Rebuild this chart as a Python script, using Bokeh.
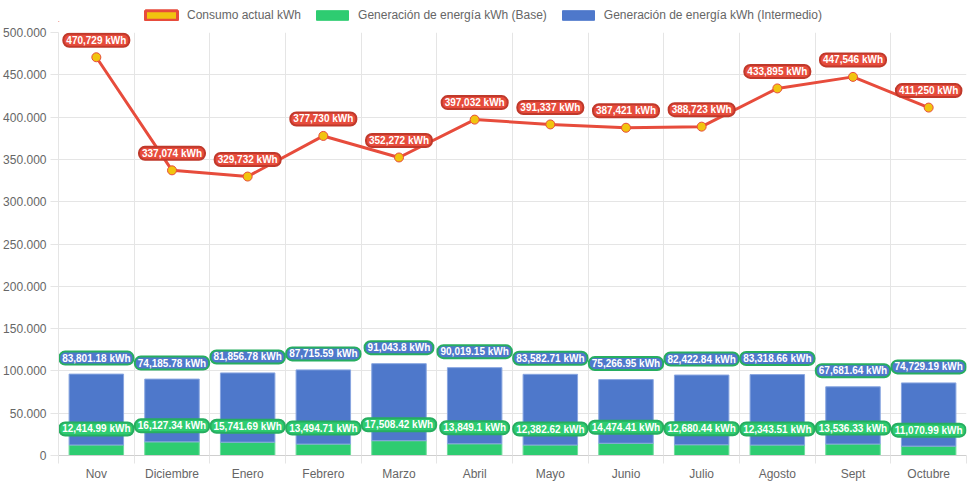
from bokeh.plotting import figure
from bokeh.layouts import column
from bokeh.models import FixedTicker, ColumnDataSource, Legend, LegendItem, Range1d
from bokeh.core.properties import value
from bokeh.embed import file_html
from bokeh.resources import INLINE

months = ["Nov", "Diciembre", "Enero", "Febrero", "Marzo", "Abril", "Mayo",
          "Junio", "Julio", "Agosto", "Sept", "Octubre"]
consumo = [470729, 337074, 329732, 377730, 352272, 397032, 391337, 387421,
           388723, 433895, 447546, 411250]
base = [12414.99, 16127.34, 15741.69, 13494.71, 17508.42, 13849.1, 12382.62,
        14474.41, 12680.44, 12343.51, 13536.33, 11070.99]
inter = [83801.18, 74185.78, 81856.78, 87715.59, 91043.8, 90019.15, 83582.71,
         75266.95, 82422.84, 83318.66, 67681.64, 74729.19]
y_ticks = [0, 50000, 100000, 150000, 200000, 250000, 300000, 350000, 400000, 450000, 500000]
y_tick_labels = ["0", "50.000", "100.000", "150.000", "200.000", "250.000",
                 "300.000", "350.000", "400.000", "450.000", "500.000"]
legend_labels = ["Consumo actual kWh", "Generación de energía kWh (Base)",
                 "Generación de energía kWh (Intermedio)"]

RED = "#e74c3c"
RED_DARK = "#c0392b"
YELLOW = "#f1c40f"
GREEN = "#2ecc71"
GREEN_DARK = "#27ae60"
BLUE = "#4e78cb"
GRID = "#e5e5e5"
FONT = "Liberation Sans"


def fmt_bar(v):
    s = f"{v:,.2f}".rstrip("0").rstrip(".")
    return s + " kWh"


n = len(months)
xc = [i + 0.5 for i in range(n)]
tops = [b + i for b, i in zip(base, inter)]

src = ColumnDataSource(dict(
    x=xc, base=base, top=tops, consumo=consumo,
    lab_base=[fmt_bar(v) for v in base],
    lab_inter=[fmt_bar(v) for v in inter],
    lab_cons=[f"{v:,} kWh" for v in consumo],
))

# ---------- legend strip ----------
leg = figure(width=968, height=22, output_backend="svg", toolbar_location=None,
             x_range=Range1d(0, 1), y_range=Range1d(0, 1),
             x_axis_location=None, y_axis_location=None,
             min_border_left=0, min_border_right=0, min_border_top=0, min_border_bottom=0)
leg.outline_line_color = None
leg.xgrid.visible = False
leg.ygrid.visible = False
r1 = leg.vbar(x=[-100], top=[-100], width=0.5, fill_color=YELLOW, line_color=RED, line_width=3)
r2 = leg.vbar(x=[-100], top=[-100], width=0.5, fill_color=GREEN, line_color=GREEN, line_width=1)
r3 = leg.vbar(x=[-100], top=[-100], width=0.5, fill_color=BLUE, line_color=BLUE, line_width=1)
legend = Legend(items=[
    LegendItem(label=legend_labels[0], renderers=[r1]),
    LegendItem(label=legend_labels[1], renderers=[r2]),
    LegendItem(label=legend_labels[2], renderers=[r3]),
], orientation="horizontal", location=(83, 0), glyph_width=40, glyph_height=12,
    label_text_font=FONT, label_text_font_size="12px", label_text_color="#666666",
    spacing=11, label_standoff=6, padding=0, margin=0, border_line_color=None,
    background_fill_alpha=0, label_height=12)
leg.add_layout(legend)

# ---------- main chart ----------
p = figure(frame_width=908, frame_height=423, output_backend="svg",
           toolbar_location=None, x_range=Range1d(0, n), y_range=Range1d(0, 500000),
           min_border_left=10, min_border_right=2, min_border_top=10, min_border_bottom=28)
p.outline_line_color = None
p.background_fill_color = "white"

p.xgrid.ticker = FixedTicker(ticks=list(range(n + 1)))
p.xgrid.grid_line_color = GRID
p.ygrid.ticker = FixedTicker(ticks=y_ticks)
p.ygrid.grid_line_color = GRID

p.xaxis.ticker = FixedTicker(ticks=xc, minor_ticks=list(range(n + 1)))
p.xaxis.major_label_overrides = {x: m for x, m in zip(xc, months)}
p.xaxis.major_tick_out = 8
p.xaxis.major_tick_in = 0
p.xaxis.major_tick_line_color = None
p.xaxis.minor_tick_out = 8
p.xaxis.minor_tick_in = 0
p.xaxis.minor_tick_line_color = GRID
p.xaxis.major_label_standoff = 3
p.xaxis.axis_line_color = "#cfcfcf"

p.yaxis.ticker = FixedTicker(ticks=y_ticks)
p.yaxis.major_label_overrides = {t: l for t, l in zip(y_ticks, y_tick_labels)}
p.yaxis.major_tick_out = 8
p.yaxis.major_tick_in = 0
p.yaxis.major_tick_line_color = GRID
p.yaxis.minor_tick_line_color = None
p.yaxis.major_label_standoff = 4
p.yaxis.axis_line_color = GRID

for ax in (p.xaxis, p.yaxis):
    ax.major_label_text_font = FONT
    ax.major_label_text_font_size = "12px"
    ax.major_label_text_color = "#666666"

p.vbar(x="x", bottom=0, top="base", width=0.72, source=src,
       fill_color=GREEN, line_color="#6fdc9b", line_width=1)
p.vbar(x="x", bottom="base", top="top", width=0.72, source=src,
       fill_color=BLUE, line_color="#89a6e0", line_width=1)

p.line(x="x", y="consumo", source=src, line_color=RED, line_width=3)
p.scatter(x="x", y="consumo", source=src, size=9, fill_color=YELLOW,
          line_color=RED, line_width=1)

label_common = dict(text_align="center", text_baseline="middle",
                    text_font=value(FONT), text_font_size="10px",
                    text_font_style="bold", text_color="white",
                    border_radius=6, padding=dict(left=3, right=3, top=1, bottom=1))

p.text(x="x", y="base", text="lab_base", source=src, y_offset=-16,
       background_fill_color=GREEN, border_line_color=GREEN_DARK,
       border_line_width=2, **label_common)
p.text(x="x", y="top", text="lab_inter", source=src, y_offset=-16,
       background_fill_color=BLUE, border_line_color=GREEN_DARK,
       border_line_width=2, **label_common)
p.text(x="x", y="consumo", text="lab_cons", source=src, y_offset=-17,
       background_fill_color=RED, border_line_color=RED_DARK,
       border_line_width=2, **label_common)

layout = column(leg, p, spacing=0)
open("out.html", "w").write(file_html(layout, INLINE))
